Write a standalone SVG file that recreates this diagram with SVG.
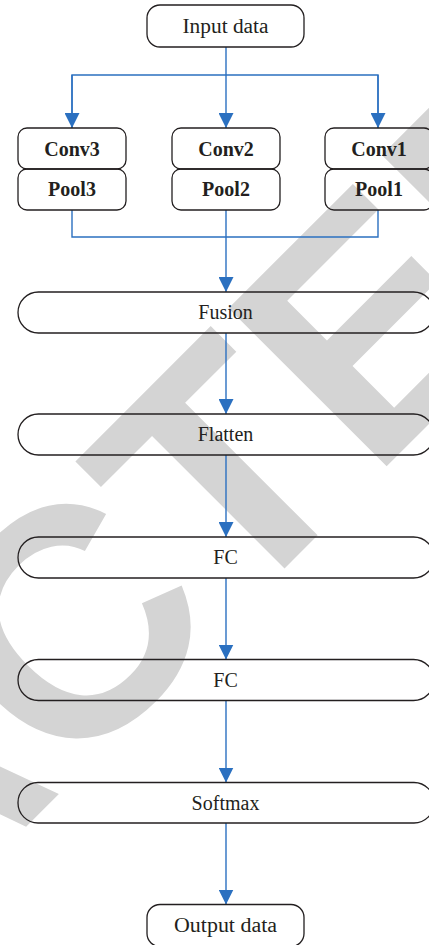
<svg xmlns="http://www.w3.org/2000/svg" width="429" height="945" viewBox="0 0 429 945">
  <style>
    .box { fill: none; stroke: #231f20; stroke-width: 1.3; }
    .lbl { font-family: "Liberation Serif", "Times New Roman", serif; font-size: 20px; fill: #231f20; text-anchor: middle; }
    .bold { font-weight: bold; }
    .wire { fill: none; stroke: #2b70c0; stroke-width: 1.4; }
    .stamp { font-family: "Liberation Sans", Arial, sans-serif; font-weight: bold; font-size: 325px; fill: #d4d4d4; }
  </style>
  <defs>
    <marker id="arrow" markerUnits="userSpaceOnUse" markerWidth="15" markerHeight="15" refX="15" refY="7.5" orient="auto">
      <path d="M0,0 L15,7.5 L0,15 Z" fill="#2b70c0"/>
    </marker>
  </defs>

  <rect width="429" height="945" fill="#ffffff"/>

  <!-- diagonal stamp lettering behind the chart -->
  <text class="stamp" x="-726.6" y="1579.6" transform="rotate(-45 -726.6 1579.6)">RETRACTED</text>

  <!-- connectors -->
  <g id="connectors">
    <line class="wire" x1="226" y1="47" x2="226" y2="128" marker-end="url(#arrow)"/>
    <polyline class="wire" points="72,128 72,75 378,75 378,128"/>
    <line class="wire" x1="72" y1="75" x2="72" y2="128" marker-end="url(#arrow)"/>
    <line class="wire" x1="378" y1="75" x2="378" y2="128" marker-end="url(#arrow)"/>
    <polyline class="wire" points="72,210 72,237 378,237 378,210"/>
    <line class="wire" x1="226" y1="210" x2="226" y2="292" marker-end="url(#arrow)"/>
    <line class="wire" x1="226" y1="333" x2="226" y2="414" marker-end="url(#arrow)"/>
    <line class="wire" x1="226" y1="455" x2="226" y2="537" marker-end="url(#arrow)"/>
    <line class="wire" x1="226" y1="578" x2="226" y2="659.5" marker-end="url(#arrow)"/>
    <line class="wire" x1="226" y1="700.5" x2="226" y2="782.5" marker-end="url(#arrow)"/>
    <line class="wire" x1="226" y1="823" x2="226" y2="904.5" marker-end="url(#arrow)"/>
  </g>

  <g id="input">
    <rect class="box" x="147" y="5" width="157" height="42" rx="13"/>
    <text class="lbl" x="225.5" y="33" textLength="86" lengthAdjust="spacingAndGlyphs">Input data</text>
  </g>

  <g id="conv3">
    <rect class="box" x="18" y="128" width="108" height="41" rx="9"/>
    <text class="lbl bold" x="72" y="156">Conv3</text>
  </g>
  <g id="pool3">
    <rect class="box" x="18" y="169" width="108" height="41" rx="9"/>
    <text class="lbl bold" x="72" y="196">Pool3</text>
  </g>
  <g id="conv2">
    <rect class="box" x="172" y="128" width="108" height="41" rx="9"/>
    <text class="lbl bold" x="226" y="156">Conv2</text>
  </g>
  <g id="pool2">
    <rect class="box" x="172" y="169" width="108" height="41" rx="9"/>
    <text class="lbl bold" x="226" y="196">Pool2</text>
  </g>
  <g id="conv1">
    <rect class="box" x="325" y="128" width="108" height="41" rx="9"/>
    <text class="lbl bold" x="379" y="156">Conv1</text>
  </g>
  <g id="pool1">
    <rect class="box" x="325" y="169" width="108" height="41" rx="9"/>
    <text class="lbl bold" x="379" y="196">Pool1</text>
  </g>

  <g id="fusion">
    <rect class="box" x="18" y="292" width="416" height="41" rx="20.5"/>
    <text class="lbl" x="225.5" y="319">Fusion</text>
  </g>
  <g id="flatten">
    <rect class="box" x="18" y="414" width="416" height="41" rx="20.5"/>
    <text class="lbl" x="225.5" y="441">Flatten</text>
  </g>
  <g id="fc1">
    <rect class="box" x="18" y="537" width="416" height="41" rx="20.5"/>
    <text class="lbl" x="225.5" y="564">FC</text>
  </g>
  <g id="fc2">
    <rect class="box" x="18" y="659.5" width="416" height="41" rx="20.5"/>
    <text class="lbl" x="225.5" y="687">FC</text>
  </g>
  <g id="softmax">
    <rect class="box" x="18" y="782.5" width="416" height="40.5" rx="20"/>
    <text class="lbl" x="225.5" y="810">Softmax</text>
  </g>

  <g id="output">
    <rect class="box" x="147" y="904.5" width="157" height="42" rx="13"/>
    <text class="lbl" x="225.5" y="932" textLength="103" lengthAdjust="spacingAndGlyphs">Output data</text>
  </g>
</svg>
